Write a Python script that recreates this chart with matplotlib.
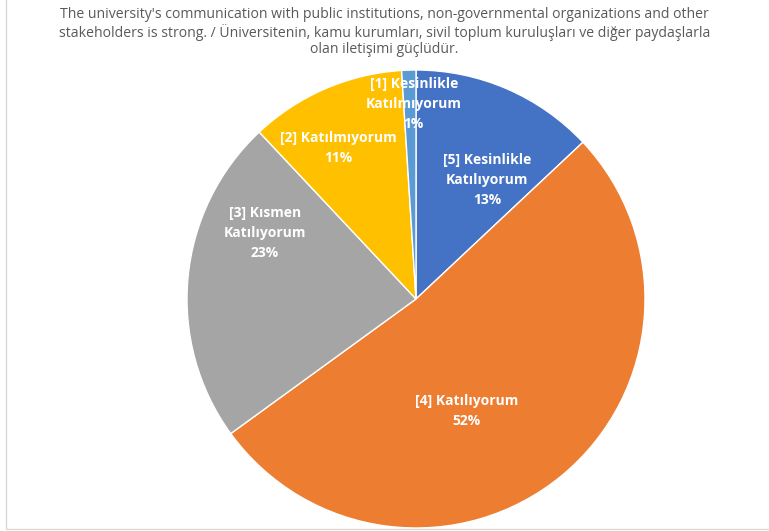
import matplotlib.pyplot as plt
import matplotlib.patches as mpatches

title = ("The university's communication with public institutions, non-governmental organizations and other\n"
         "stakeholders is strong. / Üniversitenin, kamu kurumları, sivil toplum kuruluşları ve diğer paydaşlarla\n"
         "olan iletişimi güçlüdür.")

categories = ['[5] Kesinlikle\nKatılıyorum', '[4] Katılıyorum', '[3] Kısmen\nKatılıyorum',
              '[2] Katılmıyorum', '[1] Kesinlikle\nKatılmıyorum']
percents = [13, 52, 23, 11, 1]
colors = ['#4472C4', '#ED7D31', '#A5A5A5', '#FFC000', '#5B9BD5']
# label anchor points inside the unit circle
label_pos = [(0.31, 0.52), (0.22, -0.49), (-0.66, 0.29), (-0.34, 0.66), (-0.01, 0.85)]

plt.rcParams['font.family'] = ['Open Sans', 'DejaVu Sans']

fig = plt.figure(figsize=(7.69, 5.31), dpi=100)

# chart border
fig.patches.append(mpatches.Rectangle((6 / 769, 2 / 531), 1.2, 1.2, transform=fig.transFigure,
                                      fill=False, edgecolor='#D9D9D9', linewidth=1))

ax = fig.add_axes([187 / 769, 3 / 531, 458 / 769, 458 / 531])
ax.pie(percents, colors=colors, startangle=90, counterclock=False,
       wedgeprops=dict(edgecolor='white', linewidth=1))
ax.set_xlim(-1, 1)
ax.set_ylim(-1, 1)
ax.set_aspect('auto')

for name, p, (x, y) in zip(categories, percents, label_pos):
    ax.text(x, y, f'{name}\n{p}%', ha='center', va='center', color='white',
            fontsize=10, fontweight='bold', linespacing=1.55)

fig.text(0.5, 1 - 32 / 531, title, ha='center', va='center', color='#595959',
         fontsize=10.1, linespacing=1.15)

fig.savefig('out.png', dpi=100)
